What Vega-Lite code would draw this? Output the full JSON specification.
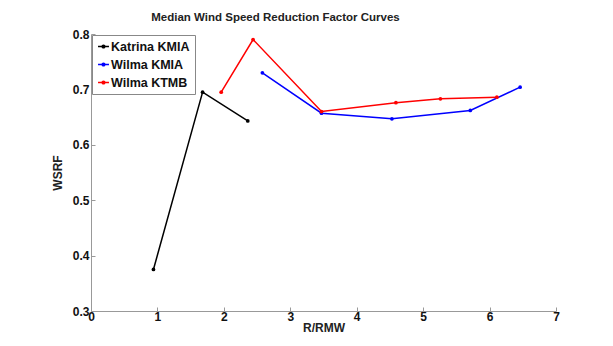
{
  "$schema": "https://vega.github.io/schema/vega-lite/v6.json",
  "width": 465,
  "height": 277,
  "autosize": {"type": "none"},
  "padding": {"left": 91, "top": 34, "right": 57, "bottom": 35},
  "background": "white",
  "title": {
    "text": "Median Wind Speed Reduction Factor Curves",
    "font": "Liberation Sans",
    "fontSize": 11.5,
    "fontWeight": "bold",
    "color": "#222222",
    "anchor": "middle",
    "dx": -48,
    "offset": 5
  },
  "data": {
    "values": [
      {"series": "Katrina KMIA", "r": 0.94, "wsrf": 0.375},
      {"series": "Katrina KMIA", "r": 1.68, "wsrf": 0.695},
      {"series": "Katrina KMIA", "r": 2.36, "wsrf": 0.643},
      {"series": "Wilma KMIA", "r": 2.58, "wsrf": 0.730},
      {"series": "Wilma KMIA", "r": 3.47, "wsrf": 0.657},
      {"series": "Wilma KMIA", "r": 4.53, "wsrf": 0.647},
      {"series": "Wilma KMIA", "r": 5.71, "wsrf": 0.662},
      {"series": "Wilma KMIA", "r": 6.46, "wsrf": 0.704},
      {"series": "Wilma KTMB", "r": 1.96, "wsrf": 0.695},
      {"series": "Wilma KTMB", "r": 2.44, "wsrf": 0.790},
      {"series": "Wilma KTMB", "r": 3.47, "wsrf": 0.660},
      {"series": "Wilma KTMB", "r": 4.59, "wsrf": 0.676},
      {"series": "Wilma KTMB", "r": 5.26, "wsrf": 0.683},
      {"series": "Wilma KTMB", "r": 6.11, "wsrf": 0.686}
    ]
  },
  "mark": {
    "type": "line",
    "strokeWidth": 1.5,
    "point": {"filled": true, "size": 14}
  },
  "encoding": {
    "x": {
      "field": "r",
      "type": "quantitative",
      "scale": {"domain": [0, 7], "nice": false, "zero": false},
      "axis": {
        "title": "R/RMW",
        "values": [0, 1, 2, 3, 4, 5, 6, 7],
        "format": "d",
        "grid": false,
        "labelFlush": false,
        "labelOverlap": false,
        "domainColor": "#999999",
        "tickColor": "#999999",
        "tickSize": -4,
        "labelPadding": 4,
        "labelFont": "Liberation Sans",
        "labelFontSize": 12,
        "labelFontWeight": "bold",
        "labelColor": "#111111",
        "titleFont": "Liberation Sans",
        "titleFontSize": 12,
        "titleFontWeight": "bold",
        "titleColor": "#222222",
        "titlePadding": 0
      }
    },
    "y": {
      "field": "wsrf",
      "type": "quantitative",
      "scale": {"domain": [0.3, 0.8], "nice": false, "zero": false},
      "axis": {
        "title": "WSRF",
        "values": [0.3, 0.4, 0.5, 0.6, 0.7, 0.8],
        "format": ".1f",
        "grid": false,
        "labelFlush": false,
        "labelOverlap": false,
        "domainColor": "#999999",
        "tickColor": "#999999",
        "tickSize": -4,
        "labelPadding": 6,
        "labelFont": "Liberation Sans",
        "labelFontSize": 12,
        "labelFontWeight": "bold",
        "labelColor": "#111111",
        "titleFont": "Liberation Sans",
        "titleFontSize": 12,
        "titleFontWeight": "bold",
        "titleColor": "#222222",
        "titlePadding": 8
      }
    },
    "color": {
      "field": "series",
      "type": "nominal",
      "scale": {
        "domain": ["Katrina KMIA", "Wilma KMIA", "Wilma KTMB"],
        "range": ["#000000", "#0000ff", "#ff0000"]
      },
      "legend": {
        "title": null,
        "orient": "top-left",
        "offset": 1,
        "padding": 5,
        "rowPadding": 5,
        "strokeColor": "#888888",
        "fillColor": "white",
        "labelFont": "Liberation Sans",
        "labelFontSize": 12.5,
        "labelFontWeight": "bold",
        "labelColor": "#111111",
        "labelOffset": 1,
        "symbolType": "M-1,0H1M-0.25,0A0.25,0.25 0 1,1 0.25,0A0.25,0.25 0 1,1 -0.25,0",
        "symbolSize": 120,
        "symbolStrokeWidth": 1.5
      }
    }
  },
  "config": {
    "view": {"stroke": null}
  }
}
